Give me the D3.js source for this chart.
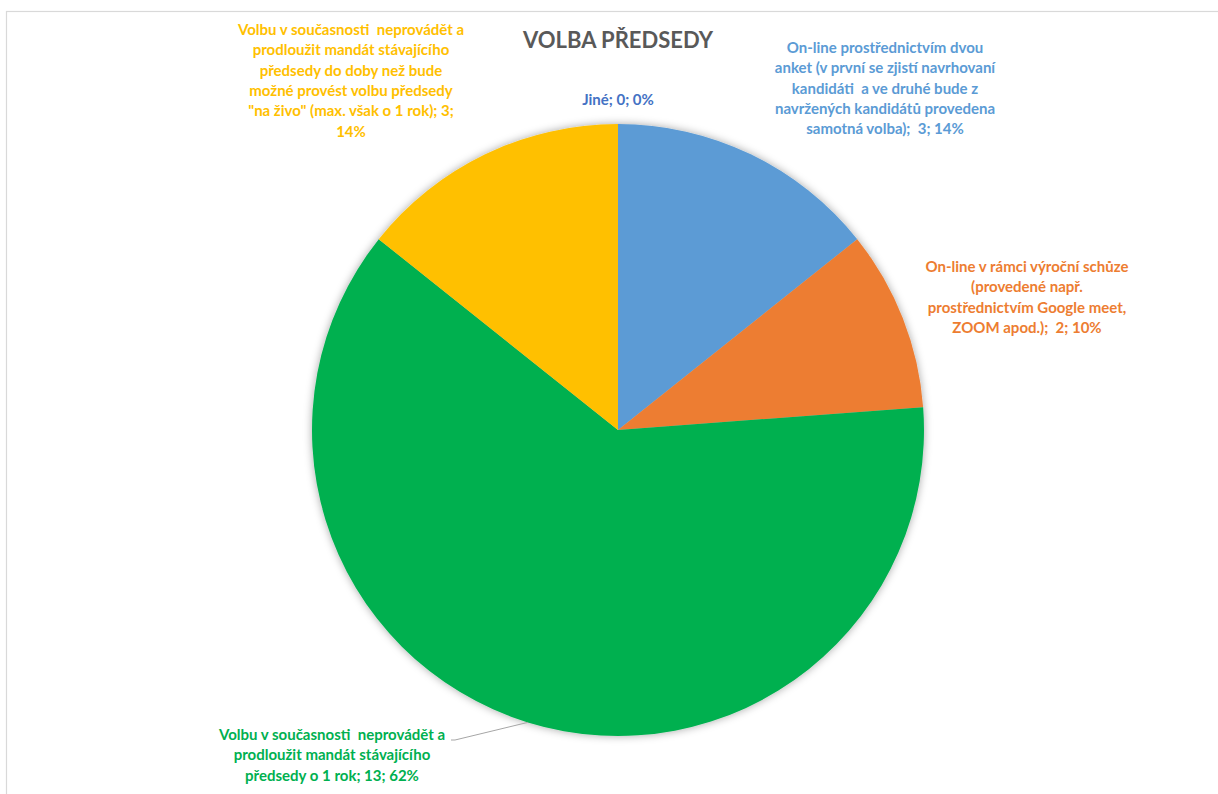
<!DOCTYPE html>
<html>
<head>
<meta charset="utf-8">
<script src="https://cdn.jsdelivr.net/npm/d3@7"></script>
<style>
  body { margin: 0; background: #fff; }
  text { font-family: Lato, "Open Sans", sans-serif; }
</style>
</head>
<body>
<div id="chart"></div>
<script>
// data
var categories = [
  "Jiné",
  "On-line prostřednictvím dvou anket (v první se zjistí navrhovaní kandidáti a ve druhé bude z navržených kandidátů provedena samotná volba)",
  "On-line v rámci výroční schůze (provedené např. prostřednictvím Google meet, ZOOM apod.)",
  "Volbu v současnosti  neprovádět a prodloužit mandát stávajícího předsedy o 1 rok",
  "Volbu v současnosti  neprovádět a prodloužit mandát stávajícího předsedy do doby než bude možné provést volbu předsedy \"na živo\" (max. však o 1 rok)"
];
var values = [0, 3, 2, 13, 3];
var colors = ["#4472C4", "#5B9BD5", "#ED7D31", "#00B050", "#FFC000"];
var labelColors = ["#4472C4", "#5B9BD5", "#ED7D31", "#00B050", "#FFC000"];

// label lines (wrapped like in the original)
var labelLines = [
  ["Jiné; 0; 0%"],
  ["On-line prostřednictvím dvou", "anket (v první se zjistí navrhovaní", "kandidáti  a ve druhé bude z", "navržených kandidátů provedena", "samotná volba);  3; 14%"],
  ["On-line v rámci výroční schůze", "(provedené např.", "prostřednictvím Google meet,", "ZOOM apod.);  2; 10%"],
  ["Volbu v současnosti  neprovádět a", "prodloužit mandát stávajícího", "předsedy o 1 rok; 13; 62%"],
  ["Volbu v současnosti  neprovádět a", "prodloužit mandát stávajícího", "předsedy do doby než bude", "možné provést volbu předsedy", "\"na živo\" (max. však o 1 rok); 3;", "14%"]
];

// layout
var W = 1218, H = 794;
var cx = 618, cy = 430, radius = 306;
var lineH = 20.3;
// label centre (x) and first baseline (y) relative to pie centre
var labelPos = [[0, -325], [267, -377], [409, -158], [-286, 310], [-267, -395]];

var svg = d3.select("#chart").append("svg")
  .attr("width", W)
  .attr("height", H);

// chart area border
svg.append("rect")
  .attr("x", 6.5).attr("y", 11.5)
  .attr("width", W + 20).attr("height", H + 20)
  .attr("fill", "#fff")
  .attr("stroke", "#d9d9d9")
  .attr("stroke-width", 1.2);

var defs = svg.append("defs");
var filt = defs.append("filter").attr("id", "shadow")
  .attr("x", "-10%").attr("y", "-10%").attr("width", "120%").attr("height", "120%");
filt.append("feDropShadow")
  .attr("dx", 0).attr("dy", 0)
  .attr("stdDeviation", 4)
  .attr("flood-color", "#000")
  .attr("flood-opacity", 0.35);

// title
svg.append("text")
  .attr("x", cx)
  .attr("y", 48)
  .attr("text-anchor", "middle")
  .style("font-size", "22px")
  .style("font-weight", "bold")
  .style("fill", "#595959")
  .text("VOLBA PŘEDSEDY");

var pie = d3.pie().sort(null).value(function(d) { return d; });
var arc = d3.arc().innerRadius(0).outerRadius(radius);
var arcs = pie(values);

var g = svg.append("g")
  .attr("transform", "translate(" + cx + "," + cy + ")");

g.append("g")
  .attr("filter", "url(#shadow)")
  .selectAll("path")
  .data(arcs)
  .enter()
  .append("path")
    .attr("d", arc)
    .attr("fill", function(d, i) { return colors[i]; });

// leader line for the big green slice (from the slice edge to its label)
var outer = d3.arc().innerRadius(radius).outerRadius(radius);
var edge = outer.centroid(arcs[3]);
g.append("polyline")
  .attr("points", [edge, [labelPos[3][0] + 123, labelPos[3][1]], [labelPos[3][0] + 119, labelPos[3][1]]].map(function(p) { return p.join(","); }).join(" "))
  .attr("fill", "none")
  .attr("stroke", "#a6a6a6")
  .attr("stroke-width", 1);

// data labels
var labels = g.selectAll(".lbl")
  .data(arcs)
  .enter()
  .append("text")
    .attr("class", "lbl")
    .attr("text-anchor", "middle")
    .style("font-size", "15px")
    .style("font-weight", "bold")
    .style("white-space", "pre")
    .style("fill", function(d, i) { return labelColors[i]; });

labels.each(function(d, i) {
  var t = d3.select(this);
  labelLines[i].forEach(function(line, j) {
    t.append("tspan")
      .attr("x", labelPos[i][0])
      .attr("y", labelPos[i][1] + j * lineH)
      .text(line);
  });
});
</script>
</body>
</html>
